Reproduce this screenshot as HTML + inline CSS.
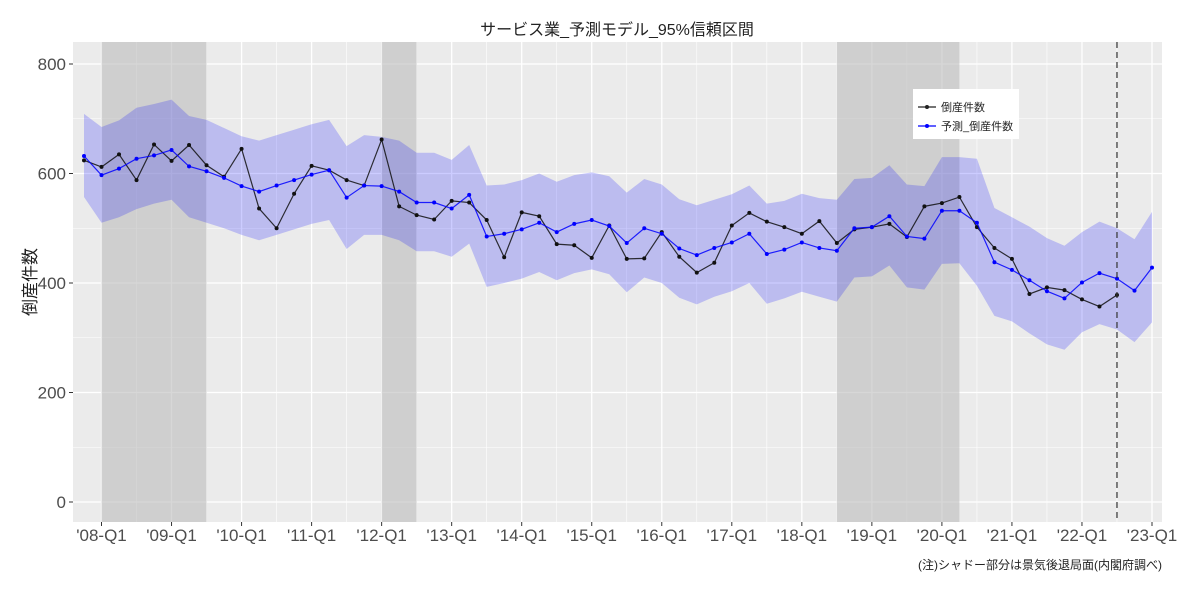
<!DOCTYPE html>
<html><head><meta charset="utf-8">
<style>
body{margin:0;background:#fff;font-family:"Liberation Sans","Noto Sans CJK JP",sans-serif;}
svg text{font-family:"Liberation Sans","Noto Sans CJK JP",sans-serif;}
</style></head>
<body>
<svg id="chart" width="1183" height="593" xmlns="http://www.w3.org/2000/svg">
<text x="617" y="35" text-anchor="middle" font-size="16" fill="#222">サービス業_予測モデル_95%信頼区間</text>
<rect x="73" y="42" width="1089" height="480" fill="#ebebeb"/>
<g id="grid"></g><g id="shades"></g><g id="band"></g><g id="lines"></g><g id="axes"></g>
<text transform="translate(36,282) rotate(-90)" text-anchor="middle" font-size="17" fill="#222">倒産件数</text>
<g>
<rect x="913" y="89" width="106" height="50" fill="#fff"/>
<line x1="918" y1="107" x2="936" y2="107" stroke="#222" stroke-width="1.2"/><circle cx="927" cy="107" r="2" fill="#222"/>
<text x="941" y="111" font-size="11" fill="#222">倒産件数</text>
<line x1="918" y1="126" x2="936" y2="126" stroke="#0000ff" stroke-width="1.2"/><circle cx="927" cy="126" r="2" fill="#0000ff"/>
<text x="941" y="130" font-size="11" fill="#222">予測_倒産件数</text>
</g>
<text x="1162" y="569" text-anchor="end" font-size="12" fill="#222">(注)シャドー部分は景気後退局面(内閣府調べ)</text>
</svg>
<script>
const actual=[624,612,635,588,653,623,652,615,594,645,536,500,563,614,606,588,578,662,540,524,516,550,547,515,447,529,522,471,469,446,505,444,445,493,448,419,437,505,528,512,502,490,513,473,498,502,508,484,540,546,557,502,464,444,380,392,387,370,357,378];
const forecast=[632,597,609,627,633,643,613,604,592,577,567,578,588,598,606,556,578,577,567,547,547,536,561,485,490,498,510,493,508,515,504,473,500,490,463,451,464,474,490,453,461,474,464,459,500,502,522,485,481,532,532,510,438,424,405,385,372,401,418,408,386,428];
const upper=[709,685,697,720,727,735,705,698,683,668,660,670,680,690,698,650,670,667,660,638,638,625,652,578,580,588,600,585,597,602,595,565,590,580,553,542,552,562,578,545,550,563,555,552,590,592,615,580,577,630,630,627,537,520,503,482,468,493,512,500,480,530];
const lower=[557,510,520,535,545,552,520,510,500,488,478,488,498,508,515,462,488,488,478,458,458,448,472,393,400,408,420,405,418,425,416,383,410,400,373,361,375,385,400,362,372,384,375,366,410,412,432,392,388,435,436,395,340,330,308,288,278,310,325,315,292,328];
const yTicks=[0,200,400,600,800];
const xLabels=["'08-Q1","'09-Q1","'10-Q1","'11-Q1","'12-Q1","'13-Q1","'14-Q1","'15-Q1","'16-Q1","'17-Q1","'18-Q1","'19-Q1","'20-Q1","'21-Q1","'22-Q1","'23-Q1"];
const recessions=[[1,7],[17,19],[43,50]];
const cutoffIndex=59;
const NS="http://www.w3.org/2000/svg";
const X=i=>84+i*(1068/61);
const Y=v=>502-v*0.5475;
function mk(p,t,a){const e=document.createElementNS(NS,t);for(const k in a)e.setAttribute(k,a[k]);document.getElementById(p).appendChild(e);return e;}
// grid
for(let v=0;v<=900;v+=100){const y=Y(v);if(y<42||y>522)continue;
 const g=mk('grid','line',{x1:73,x2:1162,y1:y,y2:y,stroke:'#fff','stroke-width':v%200===0?1.3:0.6});
 
 }
for(let i=-1;i<64;i+=2){const x=X(i);if(x<73||x>1162)continue;
 const g=mk('grid','line',{x1:x,x2:x,y1:42,y2:522,stroke:'#fff','stroke-width':(i-1)%4===0?1.3:0.6});
 
 }
recessions.forEach(r=>{const s=mk('shades','rect',{x:X(r[0]),y:42,width:X(r[1])-X(r[0]),height:480,fill:'#bdbdbd','fill-opacity':0.6});
 
 });
let d='';upper.forEach((v,i)=>d+=(i?'L':'M')+X(i)+','+Y(v));
for(let i=lower.length-1;i>=0;i--)d+='L'+X(i)+','+Y(lower[i]);
const b=mk('band','path',{d:d+'Z',fill:'#0000ff','fill-opacity':0.2});


function series(arr,col,name){const p=mk('lines','polyline',{points:arr.map((v,i)=>X(i)+','+Y(v)).join(' '),fill:'none',stroke:col,'stroke-width':1.2,'stroke-opacity':0.85});
 
 
 arr.forEach((v,i)=>{const c=mk('lines','circle',{cx:X(i),cy:Y(v),r:2,fill:col});
  
  });}
series(actual,'#111','actual');
series(forecast,'#0000ff','forecast');
const dl=mk('lines','line',{x1:X(cutoffIndex),x2:X(cutoffIndex),y1:42,y2:522,stroke:'#333','stroke-dasharray':'6,4','stroke-width':1.2});


yTicks.forEach(v=>{const t=mk('axes','text',{x:66,y:Y(v)+6,'text-anchor':'end','font-size':17,fill:'#4d4d4d'});t.textContent=v;
 
 
 mk('axes','line',{x1:69,x2:73,y1:Y(v),y2:Y(v),stroke:'#333'});});
xLabels.forEach((s,k)=>{const x=X(1+4*k);const t=mk('axes','text',{x:x,y:541,'text-anchor':'middle','font-size':17,fill:'#4d4d4d'});t.textContent=s;
 
 
 mk('axes','line',{x1:x,x2:x,y1:522,y2:526,stroke:'#333'});});
</script>
</body></html>
